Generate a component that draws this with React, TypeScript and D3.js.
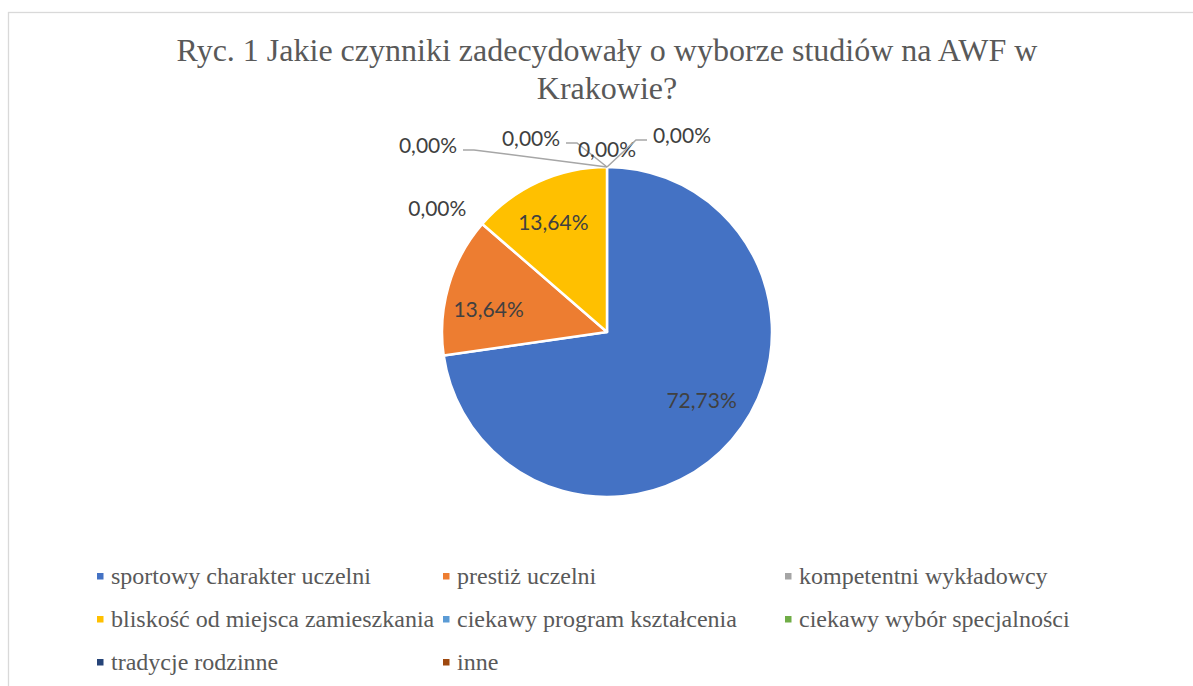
import React, { useEffect, useRef } from "react";
import * as d3 from "d3";

// chart data
const categories = [
  "sportowy charakter uczelni",
  "prestiż uczelni",
  "kompetentni wykładowcy",
  "bliskość od miejsca zamieszkania",
  "ciekawy program kształcenia",
  "ciekawy wybór specjalności",
  "tradycje rodzinne",
  "inne",
];
const shares = [72.73, 13.64, 0, 13.64, 0, 0, 0, 0];
const colors = [
  "#4472C4",
  "#ED7D31",
  "#A5A5A5",
  "#FFC000",
  "#5B9BD5",
  "#70AD47",
  "#264478",
  "#9E480E",
];
const titleLines = [
  "Ryc. 1 Jakie czynniki zadecydowały o wyborze studiów na AWF w",
  "Krakowie?",
];

const W = 1193;
const H = 686;

const App: React.FC = () => {
  const ref = useRef<SVGSVGElement | null>(null);

  useEffect(() => {
    const svg = d3.select(ref.current);
    svg.selectAll("*").remove();

    svg
      .append("rect")
      .attr("x", 8.5)
      .attr("y", 12.5)
      .attr("width", 1200)
      .attr("height", 700)
      .attr("fill", "#fff")
      .attr("stroke", "#d9d9d9")
      .attr("stroke-width", 1.3);

    // title
    svg
      .append("g")
      .selectAll("text")
      .data(titleLines)
      .enter()
      .append("text")
      .attr("x", 607)
      .attr("y", (d, i) => 61 + i * 38)
      .attr("text-anchor", "middle")
      .attr("font-family", "'Liberation Serif', 'Times New Roman', serif")
      .attr("font-size", 32)
      .attr("fill", "#595959")
      .text((d) => d);

    const cx = 607;
    const cy = 332;
    const r = 165;

    const pie = d3
      .pie<number>()
      .sort(null)
      .value((d) => d);
    const arcs = pie(shares);
    const arc = d3.arc<d3.PieArcDatum<number>>().innerRadius(0).outerRadius(r);
    const labelArc = d3
      .arc<d3.PieArcDatum<number>>()
      .innerRadius(r * 0.71)
      .outerRadius(r * 0.71);

    const g = svg.append("g").attr("transform", `translate(${cx},${cy})`);

    g.selectAll("path")
      .data(arcs.filter((a) => a.value > 0))
      .enter()
      .append("path")
      .attr("d", arc)
      .attr("fill", (d) => colors[d.index])
      .attr("stroke", "#fff")
      .attr("stroke-width", 2.5)
      .attr("stroke-linejoin", "round");

    const fmt = (v: number) => v.toFixed(2).replace(".", ",") + "%";
    const labelFont = "Lato, 'Liberation Sans', sans-serif";

    // small nudges so the inside labels sit where Excel's best fit put them
    const nudge: Record<number, [number, number]> = {
      0: [6, -8],
      1: [-6, 11],
      3: [-5, -3],
    };

    g.selectAll("text.inside")
      .data(arcs.filter((a) => a.value > 0))
      .enter()
      .append("text")
      .attr("class", "inside")
      .attr("transform", (d) => {
        const [x, y] = labelArc.centroid(d);
        const [nx, ny] = nudge[d.index] || [0, 0];
        return `translate(${x + nx},${y + ny})`;
      })
      .attr("text-anchor", "middle")
      .attr("dy", "0.35em")
      .attr("font-family", labelFont)
      .attr("font-size", 21)
      .attr("fill", "#404040")
      .text((d) => fmt(d.value));

    // zero labels: offsets from the point where the slice sits on the rim
    const zeroLayout: Record<number, { dx: number; dy: number; lead: number }> = {
      2: { dx: -45, dy: -15, lead: 0 },
      4: { dx: -179, dy: -21, lead: 1 },
      5: { dx: -76, dy: -28, lead: 1 },
      6: { dx: 0, dy: -17, lead: 0 },
      7: { dx: 75, dy: -31, lead: -1 },
    };
    const halfW = 29;

    arcs
      .filter((a) => a.value === 0)
      .forEach((a) => {
        const ang = a.startAngle;
        const ax = Math.sin(ang) * r;
        const ay = -Math.cos(ang) * r;
        const lay = zeroLayout[a.index];
        const lx = ax + lay.dx;
        const ly = ay + lay.dy;
        if (lay.lead !== 0) {
          const sx = lx + lay.lead * (halfW + 6);
          const sy = ly + 4;
          const ex = sx + lay.lead * 11;
          g.append("path")
            .attr("d", d3.line()([[sx, sy], [ex, sy], [ax, ay]]))
            .attr("fill", "none")
            .attr("stroke", "#a6a6a6")
            .attr("stroke-width", 1.5);
        }
        g.append("text")
          .attr("x", lx)
          .attr("y", ly)
          .attr("text-anchor", "middle")
          .attr("dy", "0.35em")
          .attr("font-family", labelFont)
          .attr("font-size", 21)
          .attr("fill", "#404040")
          .text(fmt(a.value));
      });

    // legend, three columns
    const colX = [97, 443, 785];
    const rowY = [576, 619, 662];
    const leg = svg
      .append("g")
      .selectAll("g")
      .data(categories)
      .enter()
      .append("g")
      .attr(
        "transform",
        (d, i) => `translate(${colX[i % 3]},${rowY[Math.floor(i / 3)]})`
      );
    leg
      .append("rect")
      .attr("x", 0)
      .attr("y", -3)
      .attr("width", 6.5)
      .attr("height", 6.5)
      .attr("fill", (d, i) => colors[i]);
    leg
      .append("text")
      .attr("x", 14)
      .attr("y", 8)
      .attr("font-family", "'Liberation Serif', 'Times New Roman', serif")
      .attr("font-size", 24)
      .attr("fill", "#595959")
      .text((d) => d);
  }, []);

  return (
    <svg
      ref={ref}
      width={W}
      height={H}
      style={{ position: "absolute", left: 0, top: 0 }}
    />
  );
};

export default App;
